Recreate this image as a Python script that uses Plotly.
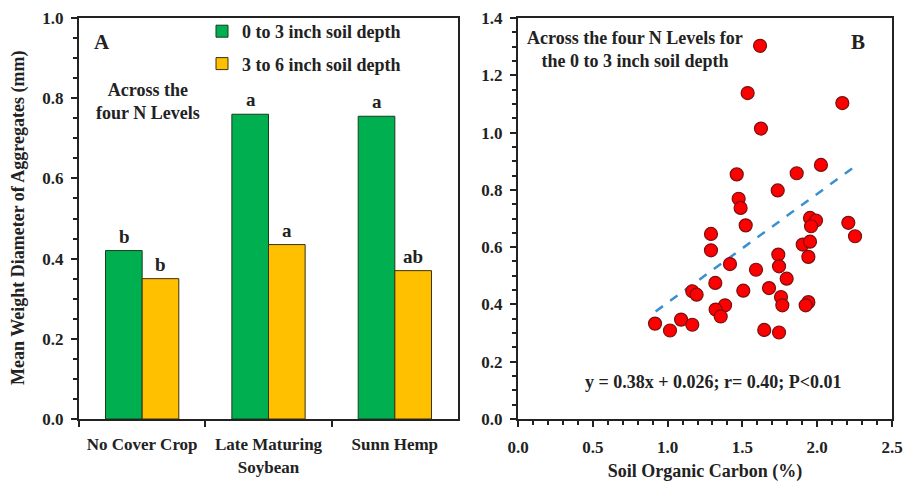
import plotly.graph_objects as go

# ---- Panel A data ----
categories = ["No Cover Crop", "Late Maturing<br>Soybean", "Sunn Hemp"]
mwd_0_3 = [0.42, 0.76, 0.755]
mwd_3_6 = [0.35, 0.435, 0.37]
letters_0_3 = ["b", "a", "a"]
letters_3_6 = ["b", "a", "ab"]

# ---- Panel B data ----
soc = [1.618, 1.535, 1.624, 2.168, 1.462, 1.863, 2.025, 1.736, 1.475, 1.488,
       1.522, 1.952, 1.992, 1.959, 2.208, 2.253, 1.290, 1.290, 1.903, 1.952,
       1.941, 1.740, 1.745, 1.417, 1.591, 1.796, 1.319, 1.506, 1.678, 1.165,
       1.194, 1.758, 1.767, 1.384, 1.321, 1.355, 1.941, 1.923, 0.916, 1.016,
       1.090, 1.165, 1.646, 1.745]
mwd_b = [1.303, 1.138, 1.014, 1.103, 0.854, 0.858, 0.887, 0.798, 0.769, 0.737,
         0.676, 0.702, 0.693, 0.673, 0.685, 0.638, 0.646, 0.589, 0.609, 0.619,
         0.566, 0.574, 0.533, 0.541, 0.521, 0.490, 0.475, 0.448, 0.457, 0.446,
         0.434, 0.426, 0.397, 0.397, 0.382, 0.358, 0.408, 0.397, 0.333, 0.309,
         0.347, 0.329, 0.311, 0.302]
fit_x = [0.92, 2.27]
slope, intercept = 0.38, 0.026
fit_y = [slope * v + intercept for v in fit_x]

FONT = "Liberation Serif"
INK = "#222"
W, H = 904, 484

def px_x(p):
    return p / W

def px_y(p):
    return 1 - p / H

def bfont(size):
    return dict(family=FONT, size=size, color=INK, weight="bold")

fig = go.Figure()

fig.add_trace(go.Bar(
    x=categories, y=mwd_0_3, name="0 to 3 inch soil depth",
    marker=dict(color="#00b050", line=dict(color="#1a3a1a", width=1)),
    xaxis="x", yaxis="y", legendgroup="g1", offsetgroup="g1"))
fig.add_trace(go.Bar(
    x=categories, y=mwd_3_6, name="3 to 6 inch soil depth",
    marker=dict(color="#ffc000", line=dict(color="#3a3010", width=1)),
    xaxis="x", yaxis="y", legendgroup="g2", offsetgroup="g2"))

fig.add_trace(go.Scatter(
    x=fit_x, y=fit_y, mode="lines",
    line=dict(color="#3a8fd0", width=2.5, dash="dash"),
    xaxis="x2", yaxis="y2", showlegend=False))
fig.add_trace(go.Scatter(
    x=soc, y=mwd_b, mode="markers",
    marker=dict(color="#ff0000", size=13, line=dict(color="#7a1010", width=1.2)),
    xaxis="x2", yaxis="y2", showlegend=False))

axis_common = dict(showline=True, linecolor=INK, linewidth=2, mirror=True,
                   showgrid=False, zeroline=False, ticks="outside",
                   tickcolor=INK, tickwidth=2, automargin=False)

annotations = [
    dict(text="Mean Weight Diameter of Aggregates (mm)", textangle=-90,
         x=px_x(19), y=px_y(218), xref="paper", yref="paper",
         xanchor="center", yanchor="middle", showarrow=False, font=bfont(18)),
    dict(text="A", x=px_x(92), y=px_y(42), xref="paper", yref="paper",
         xanchor="left", yanchor="middle", showarrow=False, font=bfont(21)),
    dict(text="Across the<br>four N Levels", x=px_x(148), y=px_y(101),
         xref="paper", yref="paper", xanchor="center", yanchor="middle",
         showarrow=False, align="center", font=bfont(18)),
    dict(text="B", x=px_x(858), y=px_y(42), xref="paper", yref="paper",
         xanchor="center", yanchor="middle", showarrow=False, font=bfont(21)),
    dict(text="Across the four N Levels for<br>the 0 to 3 inch soil depth",
         x=px_x(635), y=px_y(50), xref="paper", yref="paper",
         xanchor="center", yanchor="middle", showarrow=False, align="center",
         font=bfont(18)),
    dict(text="y = 0.38x + 0.026; r= 0.40; P<0.01",
         x=px_x(713), y=px_y(382), xref="paper", yref="paper",
         xanchor="center", yanchor="middle", showarrow=False, font=bfont(18)),
]
# significance letters above bars
for cat, v, t in zip(categories, mwd_0_3, letters_0_3):
    annotations.append(dict(text=t, x=cat, y=v, xref="x", yref="y", xshift=-18,
                            yanchor="bottom", yshift=2, showarrow=False, font=bfont(19)))
for cat, v, t in zip(categories, mwd_3_6, letters_3_6):
    annotations.append(dict(text=t, x=cat, y=v, xref="x", yref="y", xshift=18,
                            yanchor="bottom", yshift=2, showarrow=False, font=bfont(19)))

y_top, y_bot = 18, 419
minor_common = dict(ticks="outside", ticklen=4, tickcolor=INK, tickwidth=2)
fig.update_layout(
    width=W, height=H,
    margin=dict(l=0, r=0, t=0, b=0, autoexpand=False),
    paper_bgcolor="white", plot_bgcolor="white",
    font=dict(family=FONT, color=INK),
    barmode="group", bargap=0.42, bargroupgap=0,
    xaxis=dict(domain=[px_x(79), px_x(458)], anchor="y", type="category",
               tickson="boundaries", ticklen=6, tickangle=0, tickfont=bfont(17),
               ticklabelstandoff=9, **axis_common),
    yaxis=dict(domain=[px_y(y_bot), px_y(y_top)], anchor="x", range=[0, 1.0],
               dtick=0.2, tickformat=".1f", ticklen=6, tickfont=bfont(17),
               ticklabelstandoff=4,
               minor=dict(dtick=0.05, **minor_common),
               **axis_common),
    xaxis2=dict(domain=[px_x(518), px_x(892)], anchor="y2", range=[0, 2.5],
                dtick=0.5, tickformat=".1f", ticklen=6, tickangle=0, tickfont=bfont(17),
                ticklabelstandoff=6,
                minor=dict(dtick=0.1, **minor_common),
                title=dict(text="Soil Organic Carbon (%)", font=bfont(18), standoff=8),
                **axis_common),
    yaxis2=dict(domain=[px_y(y_bot), px_y(y_top)], anchor="x2", range=[0, 1.4],
                dtick=0.2, tickformat=".1f", ticklen=6, tickfont=bfont(17),
                ticklabelstandoff=4,
                minor=dict(dtick=0.05, **minor_common),
                **axis_common),
    legend=dict(x=px_x(202), y=px_y(13), xanchor="left", yanchor="top",
                bgcolor="rgba(0,0,0,0)", font=bfont(18),
                tracegroupgap=6, traceorder="grouped", itemwidth=30),
    annotations=annotations,
)

fig.write_html("out.html", config={"displayModeBar": False},
               post_script="document.body.style.margin='0';document.body.style.overflow='hidden';")
